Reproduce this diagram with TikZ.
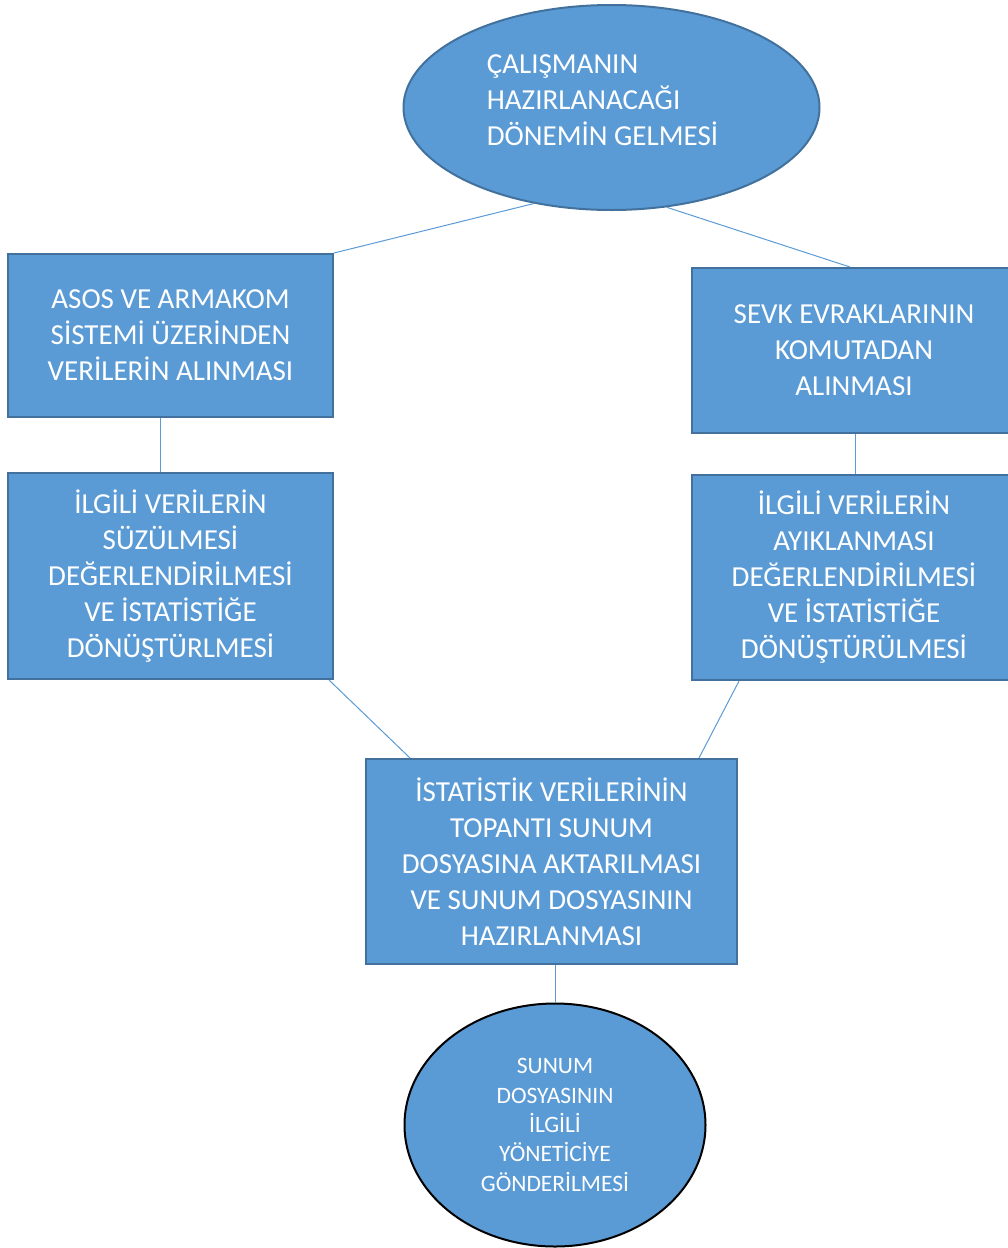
\documentclass[tikz,border=0pt]{standalone}
\usepackage{fontspec}
\setmainfont{Carlito}
\usetikzlibrary{shapes.geometric}
\definecolor{boxfill}{HTML}{5B9BD5}
\definecolor{boxedge}{HTML}{41719C}
\definecolor{linkcol}{HTML}{5B9BD5}
\begin{document}
\begin{tikzpicture}[x=1pt,y=-1pt,
  bigtext/.style={font=\fontsize{29}{36}\selectfont, text=white},
  smalltext/.style={font=\fontsize{23.5}{29.3}\selectfont, text=white},
  stepbox/.style={rectangle, fill=boxfill, draw=boxedge, line width=2pt,
    inner sep=0pt, align=center, bigtext},
  startell/.style={ellipse, fill=boxfill, draw=boxedge, line width=2pt, inner sep=0pt},
  endell/.style={ellipse, fill=boxfill, draw=black, line width=2pt, inner sep=0pt,
    align=center, smalltext},
  link/.style={draw=linkcol, line width=1pt}]
\useasboundingbox (0,0) rectangle (1007,1248);

% start event
\node[startell, minimum width=416pt, minimum height=205pt] (top) at (611.5,107.5) {};
\node[bigtext, align=left, inner sep=0pt] (toptext) at (602.5,100)
  {ÇALIŞMANIN\\HAZIRLANACAĞI\\DÖNEMİN GELMESİ};

% two parallel branches
\node[stepbox, minimum width=325pt, minimum height=163pt] (b1) at (170.5,335.5)
  {ASOS VE ARMAKOM\\SİSTEMİ ÜZERİNDEN\\VERİLERİN ALINMASI};
\node[stepbox, minimum width=324pt, minimum height=165pt] (b2) at (854,350.5)
  {SEVK EVRAKLARININ\\KOMUTADAN\\ALINMASI};
\node[stepbox, minimum width=325pt, minimum height=206pt] (b3) at (170.5,576)
  {İLGİLİ VERİLERİN\\SÜZÜLMESİ\\DEĞERLENDİRİLMESİ\\VE İSTATİSTİĞE\\DÖNÜŞTÜRLMESİ};
\node[stepbox, minimum width=324pt, minimum height=205pt] (b4) at (854,577.5)
  {İLGİLİ VERİLERİN\\AYIKLANMASI\\DEĞERLENDİRİLMESİ\\VE İSTATİSTİĞE\\DÖNÜŞTÜRÜLMESİ};

% merge step
\node[stepbox, minimum width=371pt, minimum height=205pt] (b5) at (551.5,861.5)
  {İSTATİSTİK VERİLERİNİN\\TOPANTI SUNUM\\DOSYASINA AKTARILMASI\\VE SUNUM DOSYASININ\\HAZIRLANMASI};

% end event
\node[endell, minimum width=301pt, minimum height=243pt] (bot) at (555,1125)
  {SUNUM\\DOSYASININ\\İLGİLİ\\YÖNETİCİYE\\GÖNDERİLMESİ};

% connectors
\draw[link] (top.231) -- (b1.north east);
\draw[link] (top.299.5) -- ([xshift=-4pt]b2.north);
\draw[link] ([xshift=-10pt]b1.south) -- ([xshift=-10pt]b3.north);
\draw[link] ([xshift=1pt]b2.south) -- ([xshift=1pt]b4.north);
\draw[link] ([xshift=-5pt]b3.south east) -- ([xshift=45pt]b5.north west);
\draw[link] ([xshift=48pt]b4.south west) -- ([xshift=-39pt]b5.north east);
\draw[link] ([xshift=3.5pt]b5.south) -- (bot.north);
\end{tikzpicture}
\end{document}
